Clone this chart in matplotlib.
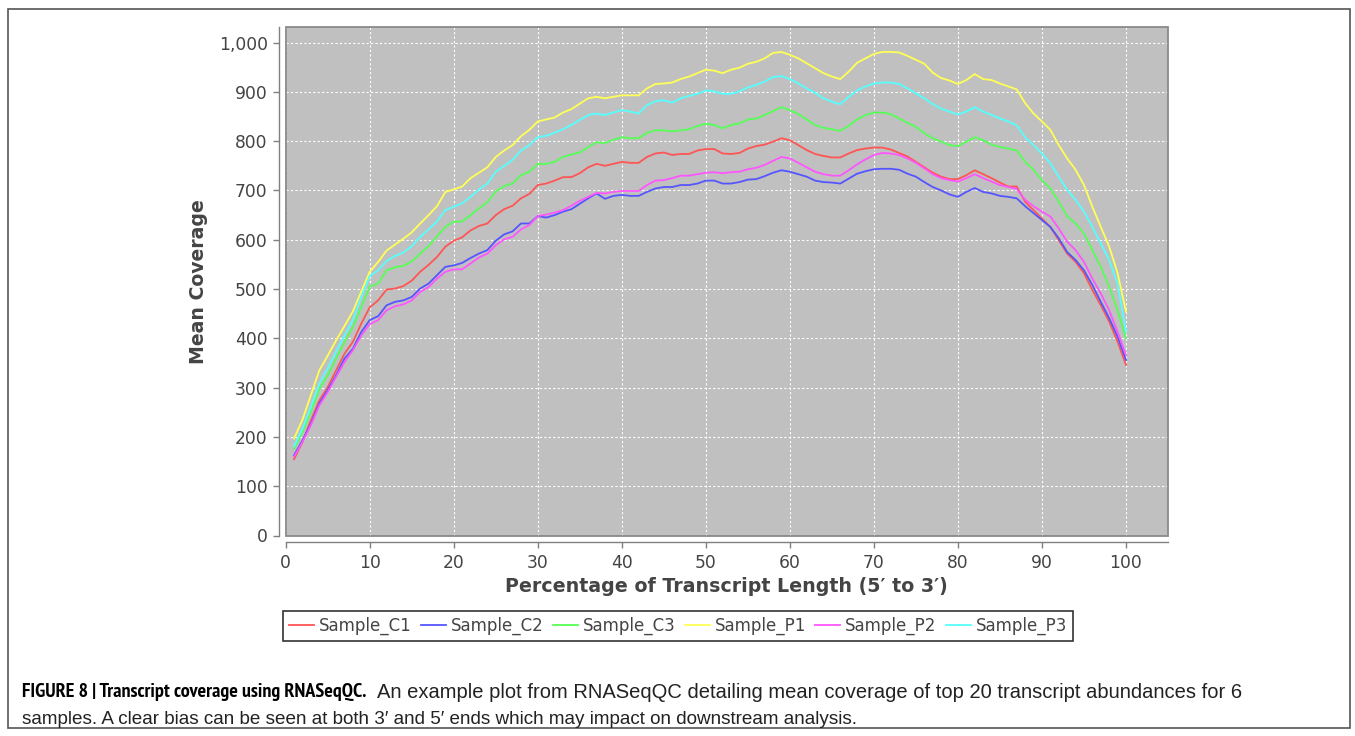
import matplotlib
matplotlib.use("Agg")
import matplotlib.pyplot as plt
from matplotlib.patches import Rectangle
from matplotlib.ticker import FuncFormatter, MultipleLocator
from matplotlib import font_manager

percent = list(range(1, 101))

sample_c1 = [155, 190, 234, 274, 301, 335, 369, 393, 430, 463,
             477, 499, 501, 506, 517, 535, 549, 565, 586, 598,
             605, 619, 628, 633, 650, 662, 669, 684, 693, 711,
             714, 720, 727, 727, 735, 747, 754, 750, 754, 758,
             756, 756, 768, 775, 777, 772, 774, 774, 781, 784,
             784, 775, 774, 776, 785, 790, 793, 799, 806, 802,
             792, 782, 774, 770, 767, 767, 775, 782, 785, 787,
             787, 783, 776, 769, 758, 747, 736, 728, 723, 723,
             731, 741, 733, 725, 716, 708, 708, 677, 660, 643,
             626, 599, 572, 555, 532, 498, 467, 434, 393, 346]

sample_c2 = [163, 193, 227, 268, 295, 325, 359, 379, 413, 437,
             445, 467, 474, 477, 484, 501, 511, 528, 545, 548,
             553, 563, 572, 579, 598, 611, 617, 633, 633, 648,
             645, 650, 657, 662, 673, 684, 694, 683, 689, 691,
             689, 689, 697, 704, 707, 707, 711, 711, 714, 720,
             720, 714, 714, 717, 722, 723, 729, 736, 741, 738,
             733, 728, 720, 717, 716, 714, 724, 734, 739, 743,
             744, 744, 742, 734, 728, 717, 707, 700, 692, 687,
             697, 705, 697, 694, 689, 687, 684, 668, 654, 640,
             626, 603, 575, 559, 538, 508, 474, 441, 403, 356]

sample_c3 = [176, 210, 251, 298, 325, 359, 393, 423, 464, 505,
             511, 538, 544, 547, 556, 572, 587, 607, 626, 637,
             637, 650, 664, 676, 698, 709, 714, 731, 738, 754,
             754, 758, 768, 773, 777, 788, 798, 796, 803, 808,
             806, 806, 817, 822, 822, 820, 822, 824, 831, 835,
             833, 826, 833, 836, 844, 846, 853, 861, 869, 863,
             855, 844, 833, 827, 824, 821, 831, 844, 853, 858,
             858, 855, 846, 837, 829, 816, 806, 799, 792, 790,
             799, 808, 802, 793, 788, 785, 781, 758, 742, 721,
             704, 677, 648, 633, 613, 579, 545, 505, 457, 400]

sample_p1 = [197, 235, 285, 335, 365, 396, 425, 455, 495, 535,
             555, 578, 590, 602, 615, 633, 650, 668, 697, 702,
             708, 725, 736, 747, 768, 781, 792, 810, 823, 840,
             844, 848, 858, 865, 876, 887, 890, 887, 890, 893,
             893, 893, 907, 916, 917, 919, 926, 931, 938, 945,
             943, 938, 945, 949, 957, 961, 968, 979, 981, 975,
             968, 958, 948, 938, 931, 926, 941, 959, 968, 977,
             981, 981, 980, 973, 965, 957, 939, 928, 923, 916,
             924, 936, 926, 924, 917, 911, 905, 877, 856, 840,
             823, 792, 765, 742, 711, 667, 626, 586, 532, 454]

sample_p2 = [160, 190, 224, 264, 291, 322, 352, 376, 406, 429,
             437, 457, 465, 469, 477, 494, 504, 521, 535, 540,
             540, 552, 564, 572, 589, 601, 606, 621, 630, 648,
             651, 655, 660, 669, 679, 687, 695, 694, 697, 699,
             699, 699, 711, 720, 721, 725, 730, 730, 733, 736,
             737, 735, 737, 738, 743, 746, 752, 760, 768, 765,
             756, 747, 738, 733, 730, 730, 741, 753, 763, 772,
             776, 775, 772, 765, 756, 745, 733, 725, 721, 718,
             725, 733, 725, 718, 711, 707, 703, 681, 668, 657,
             647, 623, 596, 579, 555, 521, 491, 457, 413, 366]

sample_p3 = [181, 217, 261, 308, 339, 373, 406, 437, 484, 526,
             538, 557, 567, 574, 587, 606, 621, 637, 660, 667,
             674, 687, 702, 714, 738, 750, 762, 781, 792, 808,
             811, 817, 824, 833, 843, 853, 856, 853, 858, 863,
             860, 856, 873, 881, 883, 878, 887, 892, 896, 903,
             901, 896, 896, 901, 909, 914, 921, 930, 932, 926,
             917, 907, 898, 887, 880, 875, 890, 903, 911, 917,
             919, 919, 916, 907, 897, 887, 875, 866, 860, 854,
             860, 869, 860, 853, 846, 840, 832, 808, 792, 775,
             755, 728, 701, 681, 657, 626, 593, 559, 511, 413]

series_names = ["Sample_C1", "Sample_C2", "Sample_C3", "Sample_P1", "Sample_P2", "Sample_P3"]
series_values = [sample_c1, sample_c2, sample_c3, sample_p1, sample_p2, sample_p3]
series_colors = ["#FF5555", "#5555FF", "#55FF55", "#FFFF55", "#FF55FF", "#55FFFF"]

caption_title = "FIGURE 8 | Transcript coverage using RNASeqQC."
caption_line1 = "An example plot from RNASeqQC detailing mean coverage of top 20 transcript abundances for 6"
caption_line2 = "samples. A clear bias can be seen at both 3\u2032 and 5\u2032 ends which may impact on downstream analysis."

W, H = 1355, 736
fig = plt.figure(figsize=(W / 100, H / 100), dpi=100)
fig.patch.set_facecolor("white")

# outer figure frame
fig.patches.append(Rectangle((8 / W, 1 - 728 / H), (1350 - 8) / W, (728 - 9) / H,
                             transform=fig.transFigure, fill=False,
                             edgecolor="#555555", linewidth=1.2))

left, right, top, bottom = 285.7, 1168, 27.3, 535.5
ax = fig.add_axes([left / W, 1 - bottom / H, (right - left) / W, (bottom - top) / H])
ax.set_facecolor("#C0C0C0")

for name, vals, col in zip(series_names, series_values, series_colors):
    ax.plot(percent, vals, color=col, linewidth=1.3, label=name)

ax.set_xlim(0, 105)
ax.set_ylim(0, 1031)
ax.xaxis.set_major_locator(MultipleLocator(10))
ax.yaxis.set_major_locator(MultipleLocator(100))
ax.yaxis.set_major_formatter(FuncFormatter(lambda v, p: f"{int(v):,}"))

ax.grid(True, color="white", linestyle=(0, (2, 2)), linewidth=0.8)
ax.set_axisbelow(True)

for s in ["top", "right"]:
    ax.spines[s].set_visible(False)
for s in ["left", "bottom"]:
    ax.spines[s].set_position(("outward", 5))
    ax.spines[s].set_color("#808080")
    ax.spines[s].set_linewidth(1.0)
ax.add_patch(Rectangle((0, 0), 1, 1, transform=ax.transAxes, fill=False,
                       edgecolor="#8a8a8a", linewidth=1.3, clip_on=False, zorder=5))

ax.tick_params(axis="both", colors="#808080", labelcolor="#444444",
               labelsize=12.3, length=4, width=1, pad=4)

ax.set_xlabel("Percentage of Transcript Length (5\u2032 to 3\u2032)", fontsize=13.7,
              fontweight="bold", color="#444444", labelpad=4)
ax.set_ylabel("Mean Coverage", fontsize=13.6, fontweight="bold", color="#444444", labelpad=8)

leg = fig.legend(loc="center", bbox_to_anchor=(678 / W, 1 - 626 / H), ncol=6,
                 fontsize=12, frameon=True, fancybox=False, handlelength=1.5,
                 handletextpad=0.3, columnspacing=0.55, borderpad=0.35)
leg.get_frame().set_edgecolor("black")
leg.get_frame().set_linewidth(1.2)
for t in leg.get_texts():
    t.set_color("#444444")

# condensed bold caption title (narrowest available), fitted to the reference width
def _is_bold(f):
    w = f.weight
    return w in ("bold", "heavy", "demibold", "semibold") or (isinstance(w, int) and w >= 600)

cands = []
for f in font_manager.fontManager.ttflist:
    nm = f.name
    if not _is_bold(f) or f.style != "normal":
        continue
    if "Narrow" in nm:
        cands.append((0, f))
    elif "Condensed" in nm and "Extra" not in nm:
        cands.append((1 if "DejaVu" not in nm else 3, f))
    elif f.stretch in ("condensed", "semi-condensed"):
        cands.append((2 if "DejaVu" not in f.name else 3, f))
cands.sort(key=lambda c: c[0])

target_w = 349.0
if cands:
    fp = font_manager.FontProperties(fname=cands[0][1].fname, size=13.5)
else:
    fp = font_manager.FontProperties(family="Liberation Sans", weight="bold", size=12.2)
t = fig.text(22 / W, 1 - 692 / H, caption_title, va="center", ha="left", color="black",
             fontproperties=fp)
fig.canvas.draw()
w0 = t.get_window_extent().width
new_size = max(10.0, min(14.5, fp.get_size() * target_w / w0))
fp.set_size(new_size)
t.set_fontproperties(fp)
fig.canvas.draw()
x1 = max(t.get_window_extent().x1 + 6, 377)

fig.text(x1 / W, 1 - 692 / H, caption_line1,
         fontsize=14.5, family=["Liberation Sans"], va="center", ha="left", color="#222222")
fig.text(22 / W, 1 - 719 / H, caption_line2,
         fontsize=13.6, family=["Liberation Sans"], va="center", ha="left", color="#222222")

fig.savefig("out.png", dpi=100)
